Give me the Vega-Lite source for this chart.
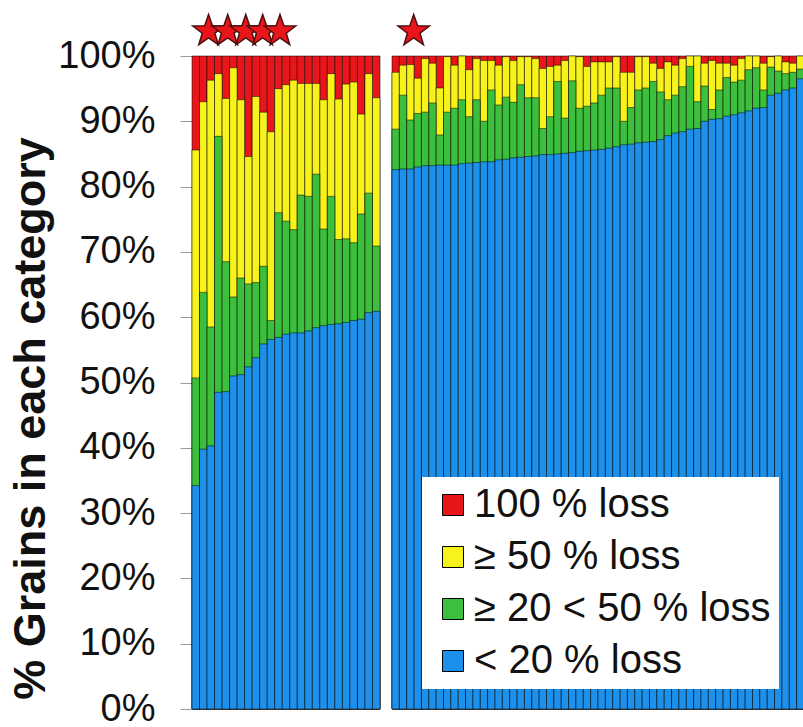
{
  "$schema": "https://vega.github.io/schema/vega-lite/v6.json",
  "background": "white",
  "padding": {"left": 8, "top": 11, "right": 0, "bottom": 0},
  "config": {"view": {"stroke": null}, "font": "Liberation Sans", "axis": {"grid": false}},
  "datasets": {
    "left": [
      {"bar": 1, "under20": 34.2, "under50": 50.7, "under100": 85.6},
      {"bar": 2, "under20": 39.8, "under50": 63.8, "under100": 93.0},
      {"bar": 3, "under20": 40.3, "under50": 58.5, "under100": 96.3},
      {"bar": 4, "under20": 48.5, "under50": 87.7, "under100": 97.3},
      {"bar": 5, "under20": 48.6, "under50": 68.5, "under100": 93.5},
      {"bar": 6, "under20": 51.0, "under50": 63.1, "under100": 98.2},
      {"bar": 7, "under20": 51.2, "under50": 66.0, "under100": 93.3},
      {"bar": 8, "under20": 52.4, "under50": 65.1, "under100": 84.6},
      {"bar": 9, "under20": 53.8, "under50": 65.3, "under100": 93.8},
      {"bar": 10, "under20": 55.9, "under50": 67.8, "under100": 91.4},
      {"bar": 11, "under20": 56.6, "under50": 59.5, "under100": 88.4},
      {"bar": 12, "under20": 56.9, "under50": 76.0, "under100": 95.0},
      {"bar": 13, "under20": 57.4, "under50": 74.7, "under100": 95.6},
      {"bar": 14, "under20": 57.6, "under50": 73.4, "under100": 96.3},
      {"bar": 15, "under20": 57.6, "under50": 78.7, "under100": 95.8},
      {"bar": 16, "under20": 57.9, "under50": 78.5, "under100": 95.8},
      {"bar": 17, "under20": 58.4, "under50": 81.9, "under100": 95.8},
      {"bar": 18, "under20": 58.7, "under50": 73.5, "under100": 93.3},
      {"bar": 19, "under20": 58.9, "under50": 78.5, "under100": 97.3},
      {"bar": 20, "under20": 59.0, "under50": 71.9, "under100": 93.4},
      {"bar": 21, "under20": 59.2, "under50": 72.0, "under100": 95.7},
      {"bar": 22, "under20": 59.5, "under50": 71.4, "under100": 96.0},
      {"bar": 23, "under20": 59.7, "under50": 75.8, "under100": 91.1},
      {"bar": 24, "under20": 60.7, "under50": 79.0, "under100": 97.3},
      {"bar": 25, "under20": 60.9, "under50": 70.9, "under100": 93.6}
    ],
    "right": [
      {"bar": 1, "under20": 82.6, "under50": 88.8, "under100": 97.5},
      {"bar": 2, "under20": 82.7, "under50": 94.0, "under100": 98.6},
      {"bar": 3, "under20": 82.7, "under50": 90.2, "under100": 98.7},
      {"bar": 4, "under20": 83.0, "under50": 91.2, "under100": 96.6},
      {"bar": 5, "under20": 83.2, "under50": 91.4, "under100": 99.6},
      {"bar": 6, "under20": 83.2, "under50": 92.8, "under100": 98.9},
      {"bar": 7, "under20": 83.3, "under50": 87.9, "under100": 95.1},
      {"bar": 8, "under20": 83.3, "under50": 91.4, "under100": 99.9},
      {"bar": 9, "under20": 83.3, "under50": 92.0, "under100": 98.6},
      {"bar": 10, "under20": 83.5, "under50": 93.3, "under100": 100},
      {"bar": 11, "under20": 83.6, "under50": 90.7, "under100": 97.9},
      {"bar": 12, "under20": 83.7, "under50": 93.3, "under100": 99.6},
      {"bar": 13, "under20": 83.8, "under50": 90.0, "under100": 99.3},
      {"bar": 14, "under20": 83.8, "under50": 94.8, "under100": 99.3},
      {"bar": 15, "under20": 84.1, "under50": 92.5, "under100": 98.6},
      {"bar": 16, "under20": 84.2, "under50": 93.7, "under100": 99.9},
      {"bar": 17, "under20": 84.4, "under50": 92.9, "under100": 99.3},
      {"bar": 18, "under20": 84.5, "under50": 95.6, "under100": 99.9},
      {"bar": 19, "under20": 84.6, "under50": 93.6, "under100": 99.9},
      {"bar": 20, "under20": 84.7, "under50": 93.6, "under100": 99.6},
      {"bar": 21, "under20": 84.9, "under50": 88.9, "under100": 98.1},
      {"bar": 22, "under20": 84.9, "under50": 90.7, "under100": 98.4},
      {"bar": 23, "under20": 85.0, "under50": 96.1, "under100": 98.6},
      {"bar": 24, "under20": 85.1, "under50": 90.5, "under100": 99.3},
      {"bar": 25, "under20": 85.2, "under50": 96.2, "under100": 100},
      {"bar": 26, "under20": 85.4, "under50": 92.0, "under100": 99.9},
      {"bar": 27, "under20": 85.5, "under50": 92.3, "under100": 98.4},
      {"bar": 28, "under20": 85.6, "under50": 92.8, "under100": 99.1},
      {"bar": 29, "under20": 85.7, "under50": 94.0, "under100": 99.1},
      {"bar": 30, "under20": 85.9, "under50": 95.1, "under100": 99.1},
      {"bar": 31, "under20": 86.1, "under50": 95.1, "under100": 99.9},
      {"bar": 32, "under20": 86.4, "under50": 90.0, "under100": 97.5},
      {"bar": 33, "under20": 86.5, "under50": 92.1, "under100": 97.5},
      {"bar": 34, "under20": 86.7, "under50": 94.8, "under100": 99.9},
      {"bar": 35, "under20": 86.8, "under50": 95.1, "under100": 99.9},
      {"bar": 36, "under20": 86.9, "under50": 96.1, "under100": 98.9},
      {"bar": 37, "under20": 87.2, "under50": 94.5, "under100": 98.1},
      {"bar": 38, "under20": 87.8, "under50": 93.3, "under100": 99.1},
      {"bar": 39, "under20": 88.2, "under50": 94.0, "under100": 98.6},
      {"bar": 40, "under20": 88.4, "under50": 95.3, "under100": 99.6},
      {"bar": 41, "under20": 88.8, "under50": 98.4, "under100": 100},
      {"bar": 42, "under20": 88.9, "under50": 93.0, "under100": 100},
      {"bar": 43, "under20": 90.0, "under50": 95.4, "under100": 98.9},
      {"bar": 44, "under20": 90.3, "under50": 91.8, "under100": 99.3},
      {"bar": 45, "under20": 90.4, "under50": 94.8, "under100": 98.9},
      {"bar": 46, "under20": 90.8, "under50": 96.7, "under100": 98.9},
      {"bar": 47, "under20": 91.0, "under50": 96.0, "under100": 98.6},
      {"bar": 48, "under20": 91.3, "under50": 96.3, "under100": 99.6},
      {"bar": 49, "under20": 91.6, "under50": 97.9, "under100": 100},
      {"bar": 50, "under20": 92.0, "under50": 98.2, "under100": 100},
      {"bar": 51, "under20": 92.1, "under50": 94.8, "under100": 98.9},
      {"bar": 52, "under20": 94.0, "under50": 98.3, "under100": 99.9},
      {"bar": 53, "under20": 94.3, "under50": 97.7, "under100": 100},
      {"bar": 54, "under20": 94.8, "under50": 97.3, "under100": 99.1},
      {"bar": 55, "under20": 95.1, "under50": 97.5, "under100": 98.9},
      {"bar": 56, "under20": 96.5, "under50": 98.0, "under100": 100}
    ],
    "leftStars": [
      {"pos": 2.2, "share": 103.8},
      {"pos": 4.75, "share": 103.8},
      {"pos": 7.15, "share": 103.8},
      {"pos": 9.4, "share": 103.8},
      {"pos": 11.7, "share": 103.8}
    ],
    "rightStars": [
      {"pos": 2.95, "share": 103.8}
    ]
  },
  "spacing": 10,
  "resolve": {"scale": {"x": "independent", "y": "independent", "color": "shared"}, "axis": {"y": "independent"}},
  "hconcat": [
    {
      "width": 188,
      "height": 653,
      "layer": [
        {
          "data": {"name": "left"},
          "layer": [
            {
              "mark": {"type": "bar", "stroke": "#000", "strokeOpacity": 0.5, "strokeWidth": 1},
              "encoding": {
                "x": {"field": "bar", "type": "ordinal", "scale": {"paddingInner": 0, "paddingOuter": 0}, "axis": {"title": null, "labels": false, "ticks": false, "domainColor": "#999"}},
                "y": {"datum": 100, "type": "quantitative", "title": "% Grains in each category", "scale": {"domain": [0, 100], "nice": false},
                  "axis": {"values": [0, 10, 20, 30, 40, 50, 60, 70, 80, 90, 100], "labelExpr": "datum.value + '%'", "labelFontSize": 38, "labelFont": "Liberation Sans", "labelColor": "#111", "labelPadding": 25, "tickSize": 12, "tickColor": "#999", "domainColor": "#999", "titleFontSize": 45, "titleFont": "Liberation Sans", "titleFontWeight": "bold", "titleColor": "#111", "titlePadding": 4, "titleY": 362}},
                "color": {"datum": "100 % loss", "type": "nominal",
                  "scale": {"domain": ["100 % loss", "≥ 50 % loss", "≥ 20 < 50 % loss", "< 20 % loss"], "range": ["#e8161b", "#f7f21c", "#3cbf3c", "#1d90ec"]},
                  "legend": {"orient": "none", "legendX": 230, "legendY": 421, "title": null, "fillColor": "white", "padding": 8, "symbolType": "square", "symbolSize": 441, "symbolStrokeColor": "#333", "symbolStrokeWidth": 1, "symbolOpacity": 1, "labelFontSize": 40, "labelFont": "Liberation Sans", "labelColor": "#111", "labelLimit": 500, "rowPadding": 12, "symbolOffset": 3, "labelOffset": 1}}
              }
            },
            {
              "mark": {"type": "bar", "stroke": "#000", "strokeOpacity": 0.5, "strokeWidth": 1},
              "encoding": {
                "x": {"field": "bar", "type": "ordinal"},
                "y": {"field": "under100", "type": "quantitative", "title": "% Grains in each category"},
                "color": {"datum": "≥ 50 % loss", "type": "nominal"}
              }
            },
            {
              "mark": {"type": "bar", "stroke": "#000", "strokeOpacity": 0.5, "strokeWidth": 1},
              "encoding": {
                "x": {"field": "bar", "type": "ordinal"},
                "y": {"field": "under50", "type": "quantitative", "title": "% Grains in each category"},
                "color": {"datum": "≥ 20 < 50 % loss", "type": "nominal"}
              }
            },
            {
              "mark": {"type": "bar", "stroke": "#000", "strokeOpacity": 0.5, "strokeWidth": 1},
              "encoding": {
                "x": {"field": "bar", "type": "ordinal"},
                "y": {"field": "under20", "type": "quantitative", "title": "% Grains in each category"},
                "color": {"datum": "< 20 % loss", "type": "nominal"}
              }
            }
          ]
        },
        {
          "data": {"name": "leftStars"},
          "mark": {"type": "point", "shape": "M0,-1L0.235,-0.324L0.951,-0.309L0.38,0.124L0.588,0.809L0,0.4L-0.588,0.809L-0.38,0.124L-0.951,-0.309L-0.235,-0.324Z", "size": 1100, "filled": true, "fill": "#e8161b", "stroke": "#4a1010", "strokeWidth": 1.5, "opacity": 1},
          "encoding": {
            "x": {"field": "pos", "type": "quantitative", "scale": {"domain": [0, 25], "nice": false, "zero": false}, "axis": null},
            "y": {"field": "share", "type": "quantitative", "title": "% Grains in each category"}
          }
        }
      ],
      "resolve": {"scale": {"x": "independent"}}
    },
    {
      "width": 412,
      "height": 653,
      "layer": [
        {
          "data": {"name": "right"},
          "layer": [
            {
              "mark": {"type": "bar", "stroke": "#000", "strokeOpacity": 0.5, "strokeWidth": 1},
              "encoding": {
                "x": {"field": "bar", "type": "ordinal", "scale": {"paddingInner": 0, "paddingOuter": 0}, "axis": {"title": null, "labels": false, "ticks": false, "domainColor": "#999"}},
                "y": {"datum": 100, "type": "quantitative", "scale": {"domain": [0, 100], "nice": false}, "axis": null},
                "color": {"datum": "100 % loss", "type": "nominal"}
              }
            },
            {
              "mark": {"type": "bar", "stroke": "#000", "strokeOpacity": 0.5, "strokeWidth": 1},
              "encoding": {
                "x": {"field": "bar", "type": "ordinal"},
                "y": {"field": "under100", "type": "quantitative"},
                "color": {"datum": "≥ 50 % loss", "type": "nominal"}
              }
            },
            {
              "mark": {"type": "bar", "stroke": "#000", "strokeOpacity": 0.5, "strokeWidth": 1},
              "encoding": {
                "x": {"field": "bar", "type": "ordinal"},
                "y": {"field": "under50", "type": "quantitative"},
                "color": {"datum": "≥ 20 < 50 % loss", "type": "nominal"}
              }
            },
            {
              "mark": {"type": "bar", "stroke": "#000", "strokeOpacity": 0.5, "strokeWidth": 1},
              "encoding": {
                "x": {"field": "bar", "type": "ordinal"},
                "y": {"field": "under20", "type": "quantitative"},
                "color": {"datum": "< 20 % loss", "type": "nominal"}
              }
            }
          ]
        },
        {
          "data": {"name": "rightStars"},
          "mark": {"type": "point", "shape": "M0,-1L0.235,-0.324L0.951,-0.309L0.38,0.124L0.588,0.809L0,0.4L-0.588,0.809L-0.38,0.124L-0.951,-0.309L-0.235,-0.324Z", "size": 1100, "filled": true, "fill": "#e8161b", "stroke": "#4a1010", "strokeWidth": 1.5, "opacity": 1},
          "encoding": {
            "x": {"field": "pos", "type": "quantitative", "scale": {"domain": [0, 56], "nice": false, "zero": false}, "axis": null},
            "y": {"field": "share", "type": "quantitative"}
          }
        }
      ],
      "resolve": {"scale": {"x": "independent"}}
    }
  ]
}
